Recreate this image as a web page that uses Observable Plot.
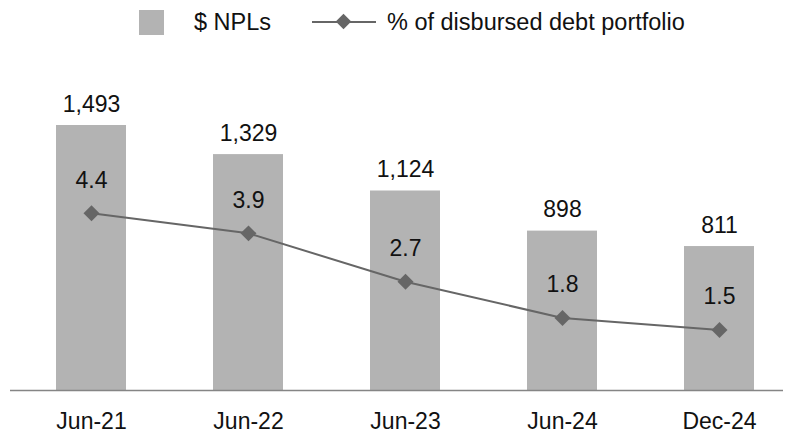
<!DOCTYPE html>
<html>
<head>
<meta charset="utf-8">
<script src="https://cdn.jsdelivr.net/npm/d3@7"></script>
<script src="https://cdn.jsdelivr.net/npm/@observablehq/plot@0.6"></script>
<style>
  body { margin: 0; background: #fff; font-family: "Liberation Sans", Arial, sans-serif; }
  #legend { position: relative; width: 787px; height: 46px; font-size: 23.5px; color: #111; }
  #legend .sw { position: absolute; left: 139px; top: 10px; width: 25px; height: 25px; background: #b3b3b3; }
  #legend .t1 { position: absolute; left: 194px; top: 8px; line-height: 28px; }
  #legend .ln { position: absolute; left: 312px; top: 21px; width: 64px; height: 2px; background: #666; }
  #legend .dm { position: absolute; left: 338px; top: 16px; width: 11px; height: 11px; background: #666; transform: rotate(45deg); }
  #legend .t2 { position: absolute; left: 387px; top: 8px; line-height: 28px; }
</style>
</head>
<body>
<div id="legend">
  <div class="sw"></div><div class="t1">$ NPLs</div>
  <div class="ln"></div><div class="dm"></div><div class="t2">% of disbursed debt portfolio</div>
</div>
<div id="chart"></div>
<script>
const periods = ["Jun-21", "Jun-22", "Jun-23", "Jun-24", "Dec-24"];
const npls = [1493, 1329, 1124, 898, 811];
const pctDebt = [4.4, 3.9, 2.7, 1.8, 1.5];
const pctFactor = 227; // secondary-axis scaling of % onto NPL axis

const data = periods.map((p, i) => ({period: p, npl: npls[i], pct: pctDebt[i]}));

const diamond = {
  draw(context, size) {
    const h = Math.sqrt(size) * 0.75;
    context.moveTo(0, -h);
    context.lineTo(h, 0);
    context.lineTo(0, h);
    context.lineTo(-h, 0);
    context.closePath();
  }
};

const chart = Plot.plot({
  width: 787,
  height: 392,
  marginLeft: 10,
  marginRight: 4,
  marginTop: 0,
  marginBottom: 48,
  style: {fontFamily: "'Liberation Sans', Arial, sans-serif", fontSize: "23px", color: "#111"},
  x: {domain: periods, range: [55, 754], paddingInner: 0.555, paddingOuter: 0, label: null, tickSize: 0, tickPadding: 22},
  y: {domain: [0, 1800], range: [344, 24.5], axis: null},
  marks: [
    Plot.barY(data, {x: "period", y: "npl", fill: "#b3b3b3"}),
    Plot.ruleY([0], {stroke: "#858585", strokeWidth: 1.5}),
    Plot.text(data, {x: "period", y: "npl", text: d => d3.format(",")(d.npl), dy: -21, fontSize: 23, fill: "#111"}),
    Plot.line(data, {x: "period", y: d => d.pct * pctFactor, stroke: "#666", strokeWidth: 2}),
    Plot.dot(data, {x: "period", y: d => d.pct * pctFactor, symbol: diamond, r: 6, fill: "#666", stroke: "none"}),
    Plot.text(data, {x: "period", y: d => d.pct * pctFactor, text: d => d.pct.toFixed(1), dy: -33, fontSize: 23, fill: "#111"})
  ]
});
document.getElementById("chart").appendChild(chart);
</script>
</body>
</html>
